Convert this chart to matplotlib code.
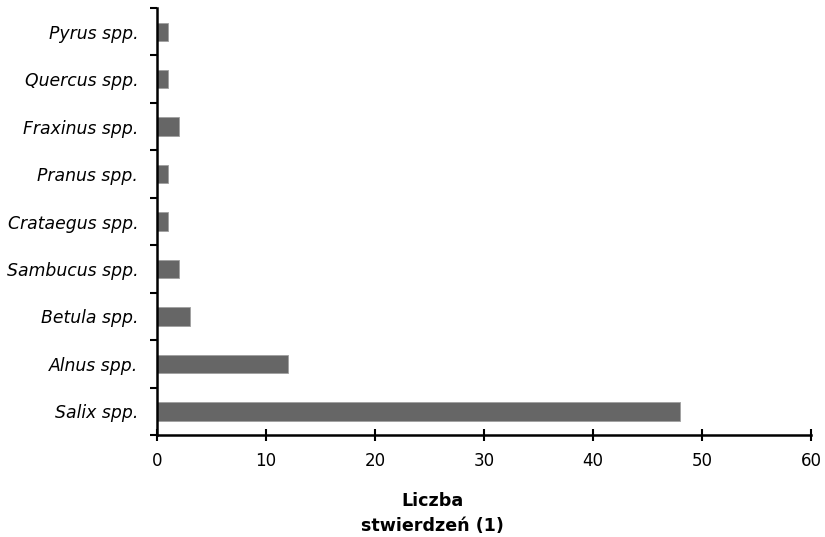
import matplotlib.pyplot as plt
import numpy as np

species = ['Salix spp.', 'Alnus spp.', 'Betula spp.', 'Sambucus spp.', 'Crataegus spp.',
           'Pranus spp.', 'Fraxinus spp.', 'Quercus spp.', 'Pyrus spp.']
counts = [48, 12, 3, 2, 1, 1, 2, 1, 1]

plt.rcParams['font.family'] = 'DejaVu Sans'

fig = plt.figure(figsize=(8.25, 5.37), dpi=100)
ax = fig.add_axes([0.1903, 0.19, 0.7927, 0.795])

y = np.arange(len(species))
ax.barh(y, counts, height=0.39, color='#666666', edgecolor='#a0a0a0', linewidth=0.6)

ax.set_xlim(0, 60)
ax.set_ylim(-0.5, len(species) - 0.5)
ax.set_xticks(range(0, 61, 10))
ax.tick_params(axis='x', direction='inout', length=8, width=1.5, labelsize=12, pad=8)

# category boundaries get the tick marks, names sit between them
ax.set_yticks(np.arange(-0.5, len(species), 1.0))
ax.set_yticklabels([])
ax.set_yticks(y, minor=True)
ax.set_yticklabels(species, minor=True, fontstyle='italic', fontsize=12.4)
ax.tick_params(axis='y', which='major', direction='out', length=5, width=1.5)
ax.tick_params(axis='y', which='minor', length=0, pad=13.5)

for s in ['top', 'right']:
    ax.spines[s].set_visible(False)
for s in ['left', 'bottom']:
    ax.spines[s].set_linewidth(1.8)

fig.text(0.524, 0.044, 'Liczba\nstwierdzeń (1)', ha='center', va='center',
         fontweight='bold', fontsize=12.6, linespacing=1.45)

fig.savefig('out.png', dpi=100)
